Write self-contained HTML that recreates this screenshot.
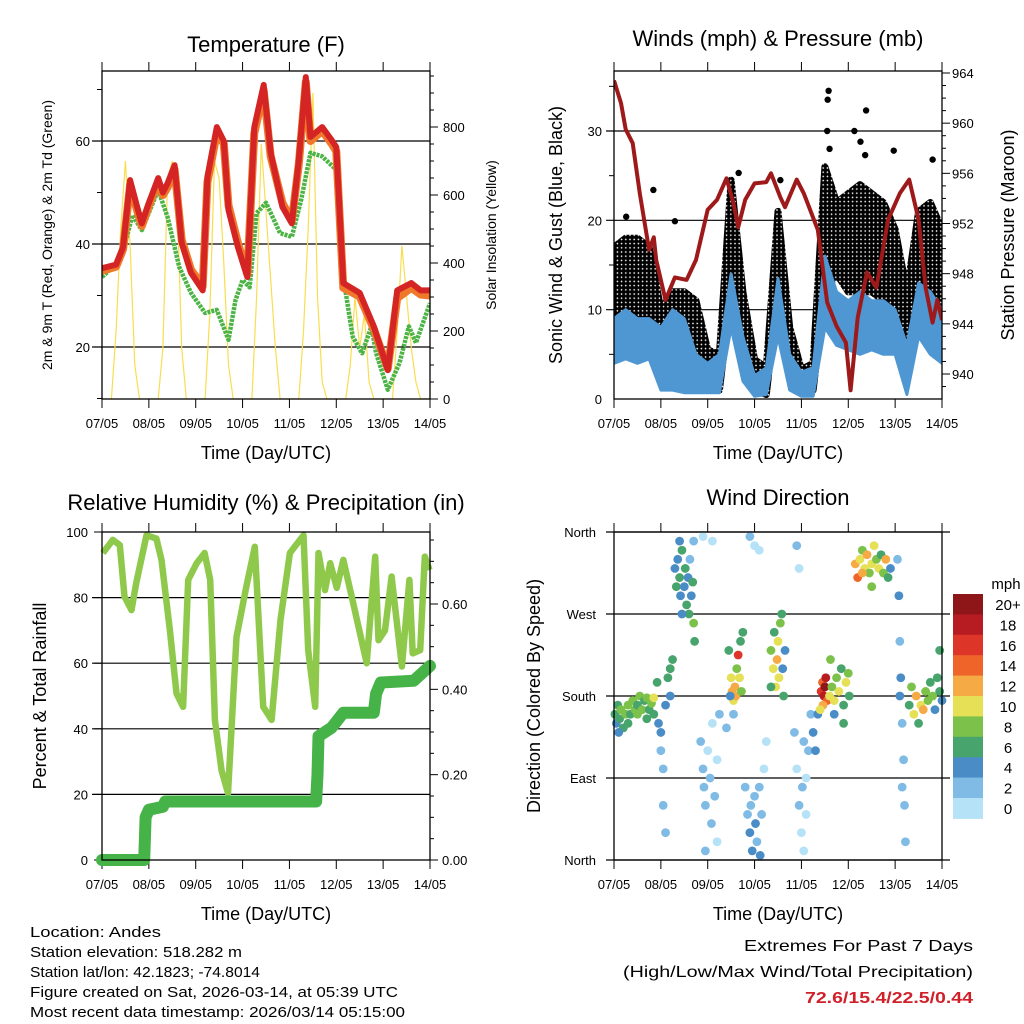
<!DOCTYPE html>
<html><head><meta charset="utf-8">
<style>
html,body{margin:0;padding:0;background:#fff;}
svg{display:block;font-family:"Liberation Sans",Arial,sans-serif;}
</style></head>
<body>
<svg id="root" width="1024" height="1024" viewBox="0 0 1024 1024" xmlns="http://www.w3.org/2000/svg">
<defs>
<pattern id="dotpat" width="4.2" height="4.2" patternUnits="userSpaceOnUse">
<rect width="4.2" height="4.2" fill="#fff"/>
<circle cx="2.1" cy="2.1" r="2.3" fill="#000"/>
</pattern>
</defs>
<rect width="1024" height="1024" fill="#fff"/>
</svg>
<script>
// ---------- DATA ----------
const dayLabels = ["07/05","08/05","09/05","10/05","11/05","12/05","13/05","14/05"];
const tempT = [0,0.3,0.45,0.6,0.75,0.85,1.0,1.2,1.3,1.4,1.55,1.7,1.9,2.15,2.25,2.45,2.6,2.7,2.9,3.1,3.25,3.45,3.6,3.85,4.05,4.2,4.35,4.45,4.7,4.9,5.0,5.15,5.5,5.8,6.1,6.3,6.6,6.8,7.0];
const tempRed = [35.3,36,39.4,52.4,47.2,44,48,52.8,50,51.8,55.3,40.2,34.4,31,53,62.7,60,46.6,39.4,33.6,62.7,70.9,57.7,47.2,44,56.3,72.4,60.8,62.7,60.2,58.8,32.4,30.5,24,15.5,31,32.4,31,31];
const tempOrange = [34.8,35.6,39,51.5,46.5,43.5,47.5,52,49.5,51,54.5,40.8,35,31.8,52,61.5,59.5,47.5,40.2,34.2,61.5,69.8,57,48,44.5,55.5,71.5,60,62,59.5,58,31.5,29.8,23.5,15.8,29.5,31.5,30.2,30];
const dewT = [0,0.4,0.65,0.85,1.2,1.4,1.65,1.9,2.2,2.45,2.7,2.85,3.0,3.15,3.3,3.5,3.8,4.05,4.25,4.45,4.7,5.0,5.15,5.35,5.55,5.75,5.85,6.1,6.35,6.55,6.7,7.0];
const dewV = [33.6,36.9,45.6,42.7,50.5,45.2,35.5,30.5,26.6,27.2,21.4,29.1,33,31.6,46,48,42.1,41.4,48.5,57.7,57,54.4,33.6,22,18.8,24,18.8,11.7,16.9,24,20.8,28.5];
const solarVals = [0,0,0,200,500,700,450,100,0,0, 0,0,0,150,650,700,600,150,0,0, 0,0,0,250,700,650,400,100,0,0, 0,0,0,300,750,550,350,150,0,0, 0,0,0,200,500,900,300,50,0,0, 0,0,0,100,300,150,250,50,0,0, 0,0,0,200,450,300,150,50,0,0, 0];
const windT = [0,0.25,0.5,0.75,1,1.25,1.5,1.75,2,2.25,2.5,2.75,3,3.25,3.5,3.75,4,4.25,4.5,4.75,5,5.25,5.5,5.75,6,6.25,6.5,6.75,7];
const windLo = [4,4.5,4,4.5,1,1,0.7,0.7,0.7,0.7,8,2,0.3,0.5,7,1,0.3,0.3,8,6,5.5,5,5.5,5,5,0.5,7,5,4];
const windHi = [9,10,9,9,8,10,9,5,4,5,14,7,2.6,3.5,13.5,5,3,3.5,16,12,11,12,11,11,10,6,13,12,10];
const gustLo = [8,8,8,8,2,4.5,4.4,4,2,1,11.8,5,1,0.5,12,3,0.8,1,12,14,12,12,12,11,8,2,10,12,5];
const gustHi = [17,18,18,17,10,12,12,11,5.5,5,24.5,12,4.4,3.5,21,8,3.3,4,26,22,23,24,23,22,19,12,21,22,19];
const gustOutT = [4.58,4.56,4.55,5.13,5.38,5.26,5.36,5.97,6.8,0.84,0.26,1.3,2.66,3.55,4.6];
const gustOutV = [34.5,33.5,30,30,32.3,28.8,27.3,27.8,26.8,23.4,20.4,19.9,25.3,24.5,28];
const presT = [0,0.15,0.25,0.4,0.55,0.75,0.85,0.9,1.1,1.3,1.55,1.75,2.0,2.2,2.4,2.55,2.65,2.8,3.0,3.25,3.35,3.55,3.65,3.9,4.05,4.35,4.55,4.75,4.95,5.05,5.2,5.4,5.6,5.85,6.1,6.3,6.5,6.65,6.8,6.9,7.0];
const presV = [963.4,961.6,959.5,958.4,954.4,949.9,950.9,949.1,945.9,947.7,947.5,949.1,953.1,953.9,955.6,953.6,951.7,953.9,955.2,955.3,956.0,954.1,953.3,955.5,954.4,951.5,945.7,943.8,942.5,938.7,944.5,948.1,946.9,952.3,954.4,955.5,952.3,946.9,944.1,945.9,944.3];
const rhT = [0.02,0.23,0.38,0.48,0.63,0.73,0.95,1.16,1.27,1.45,1.59,1.73,1.84,2.02,2.19,2.31,2.41,2.55,2.69,2.87,3.08,3.26,3.44,3.62,3.81,4.01,4.3,4.4,4.55,4.62,4.76,4.87,5.01,5.15,5.36,5.65,5.83,5.9,6.04,6.18,6.4,6.56,6.63,6.79,6.89,6.99];
const rhV = [93.6,97.6,96,80.3,76.2,84.4,99,98,91.5,70,50.8,46.7,85.4,90.5,93.6,85.4,42.7,27.4,20.4,68,83.3,95.5,46.7,42.7,73.2,93.6,99,64,46.7,93.6,82.3,90.5,83,91.5,78.3,60,92.5,67,70,86.4,59,85.4,63,64,92.5,88.4];
const pT = [0,0.9,0.93,1.0,1.3,1.35,4.57,4.6,4.62,4.9,5.15,5.8,5.85,5.95,6.65,6.85,7.0];
const pV = [0,0,0.1,0.118,0.125,0.137,0.137,0.2,0.29,0.31,0.345,0.345,0.39,0.416,0.42,0.44,0.455];
const dirT = [0.02,0.05,0.08,0.12,0.15,0.2,0.25,0.3,0.35,0.4,0.45,0.5,0.55,0.6,0.65,0.7,0.75,0.8,0.85,0.1,0.3,0.5,0.7,0.85,
0.92,0.95,1.0,1.0,1.05,1.1,1.15,1.2,1.2,1.25,1.05,1.1,
1.3,1.33,1.36,1.4,1.42,1.45,1.5,1.52,1.55,1.58,1.6,1.62,1.65,1.68,1.7,1.72,1.45,1.4,1.7,
1.85,1.9,1.92,1.95,2.0,2.05,2.08,2.1,2.15,2.2,2.2,1.9,2.1,1.95,2.25,
2.45,2.5,2.52,2.55,2.58,2.6,2.62,2.65,2.68,2.7,2.72,2.75,2.48,2.55,2.4,
2.8,2.85,2.9,2.92,2.95,3.0,3.02,3.05,3.1,3.12,3.15,3.2,3.25,2.9,3.0,3.1,
3.35,3.4,3.42,3.45,3.48,3.5,3.52,3.55,3.58,3.6,3.62,3.65,3.35,
3.85,3.9,3.95,4.0,4.02,4.05,4.1,4.15,4.2,4.25,4.3,4.35,3.9,3.95,4.1,4.05,
4.42,4.45,4.48,4.5,4.52,4.55,4.46,4.4,
4.6,4.65,4.7,4.75,4.8,4.85,4.9,4.95,5.0,5.02,4.62,4.7,4.9,
5.15,5.2,5.25,5.3,5.35,5.4,5.45,5.5,5.55,5.6,5.65,5.7,5.75,5.8,5.85,5.9,5.5,5.3,
6.05,6.08,6.1,6.12,6.15,6.18,6.2,6.22,6.15,6.1,
6.3,6.35,6.4,6.45,6.5,6.55,6.6,6.65,6.7,6.75,6.8,6.85,6.9,6.95,7.0,6.95];
const dirD = [160,150,170,155,165,145,160,170,160,175,165,170,180,165,175,178,165,172,160,140,150,160,155,178,
195,150,140,120,100,170,200,210,180,220,60,30,
320,300,330,310,290,340,300,320,280,310,270,330,290,305,260,240,270,350,350,
130,100,80,60,120,90,40,150,70,110,20,355,350,10,160,
230,200,185,175,190,180,210,225,200,240,185,250,180,160,145,
80,50,30,60,10,70,40,20,80,5,50,100,130,355,345,340,
230,210,250,190,220,240,200,260,270,210,180,230,190,
140,100,60,30,80,10,50,120,160,140,120,160,345,320,90,130,
185,195,180,190,200,175,170,165,
180,190,175,200,185,210,170,195,205,180,220,160,150,
325,310,330,340,320,335,315,325,345,330,320,335,315,330,310,320,300,315,
330,290,240,200,150,110,60,20,80,180,
170,190,160,180,150,170,165,185,175,195,180,165,200,185,175,230];
const dirS = [6,4,6,6,8,6,8,8,6,8,8,6,8,8,6,8,6,8,6,4,6,8,6,10,
6,4,4,2,2,4,6,6,4,6,2,2,
4,6,4,6,4,6,4,6,6,4,6,2,4,6,8,6,4,4,2,
2,2,2,2,0,2,2,0,2,0,0,0,0,2,2,
6,10,12,10,12,12,8,16,10,6,8,6,4,2,2,
2,2,4,2,4,2,4,2,2,4,2,0,0,2,0,0,
8,10,6,10,12,10,10,8,6,4,6,4,6,
2,0,2,0,2,0,0,2,2,4,4,4,2,0,0,2,
16,14,18,20,18,14,12,10,
10,8,10,8,10,6,6,10,8,6,8,4,6,
12,14,10,8,10,12,8,10,10,8,10,6,8,12,6,4,8,12,
2,4,2,4,2,2,2,2,2,4,
6,8,10,12,6,10,12,8,8,6,8,4,6,6,4,6];
const speedBins = ["0","2","4","6","8","10","12","14","16","18","20+"];
const speedColors = ["#b5e2f7","#80bbe5","#4a8dc6","#47a46c","#7cc24a","#e5e056","#f6aa45","#ee6429","#dd3527","#b81c23","#8e1518"];

// ---------- HELPERS ----------
const NS="http://www.w3.org/2000/svg";
const root=document.getElementById('root');
function mk(tag,attrs,parent){const e=document.createElementNS(NS,tag);for(const k in attrs)e.setAttribute(k,attrs[k]);(parent||root).appendChild(e);return e;}
function txt(s,x,y,size,anchor,parent,extra){const e=mk('text',Object.assign({x:x,y:y,'font-size':size,'text-anchor':anchor||'middle',fill:'#000'},extra||{}),parent);e.textContent=s;return e;}
function lin(d0,d1,r0,r1){return v=>r0+(v-d0)*(r1-r0)/(d1-d0);}
function poly(xs,ys){return xs.map((x,i)=>x.toFixed(1)+','+ys[i].toFixed(1)).join(' ');}

function panel(name,x0,y0,x1,y1,title,titleY,ytitle,ytitleX,ytitleSize){
  const g=mk('g',{});
  
  
  const t=txt(title,(x0+x1)/2,titleY,22,'middle',g);
  
  
  const xt=txt('Time (Day/UTC)',(x0+x1)/2,y1+60,18,'middle',g);
  
  
  const yt=txt(ytitle,0,0,ytitleSize,'middle',g,{transform:`translate(${ytitleX},${(y0+y1)/2}) rotate(-90)`});
  
  
  const xs=lin(0,7,x0,x1);
  for(let i=0;i<dayLabels.length;i++){
    const x=xs(i);
    mk('line',{x1:x,y1:y0,x2:x,y2:y0-9,stroke:'#000','stroke-width':1},g);
    mk('line',{x1:x,y1:y1,x2:x,y2:y1+9,stroke:'#000','stroke-width':1},g);
    const l=txt(dayLabels[i],x,y1+29,13,'middle',g);
    
    
  }
  return {g,xs};
}
function frame(g,x0,y0,x1,y1){mk('rect',{x:x0,y:y0,width:x1-x0,height:y1-y0,fill:'none',stroke:'#000','stroke-width':1.3},g);}

// ---------- PANEL 1: Temperature ----------
(function(){
  const X0=102,Y0=71,X1=430,Y1=399;
  const p=panel('temperature-panel',X0,Y0,X1,Y1,'Temperature (F)',52,'2m & 9m T (Red, Orange) & 2m Td (Green)',52,14);
  const g=p.g, xs=p.xs;
  const ty=lin(20,60,347,141), sy=lin(0,800,399,127);
  const clip=mk('clipPath',{id:'c1'},g);mk('rect',{x:X0,y:Y0,width:X1-X0,height:Y1-Y0},clip);
  [20,40,60].forEach(v=>{
    mk('line',{x1:X0-10,y1:ty(v),x2:X1,y2:ty(v),stroke:'#000','stroke-width':1.2},g);
    const l=txt(String(v),X0-12,ty(v)+5,13,'end',g);
    
    
  });
  [10,30,50,70].forEach(v=>mk('line',{x1:X0-5,y1:ty(v),x2:X0,y2:ty(v),stroke:'#000'},g));
  for(let v=0;v<=950;v+=50){const y=sy(v);if(y<Y0)break;mk('line',{x1:X1,y1:y,x2:X1+(v%200===0?8:4),y2:y,stroke:'#000'},g);}
  [0,200,400,600,800].forEach(v=>{
    const l=txt(String(v),X1+13,sy(v)+5,13,'start',g);
    
    
  });
  const yt2=txt('Solar Insolation (Yellow)',0,0,14,'middle',g,{transform:`translate(496,${(Y0+Y1)/2}) rotate(-90)`});
  
  
  const dg=mk('g',{'clip-path':'url(#c1)'},g);
  const sol=mk('polyline',{points:poly(solarVals.map((v,i)=>xs(i*0.1)),solarVals.map(v=>sy(v))),fill:'none',stroke:'#f9dd50','stroke-width':1.2},dg);
  
  
  const dew=mk('polyline',{points:poly(dewT.map(xs),dewV.map(ty)),fill:'none',stroke:'#4bb444','stroke-width':4.5,'stroke-dasharray':'3 1','stroke-linejoin':'round'},dg);
  
  
  const or=mk('polyline',{points:poly(tempT.map(xs),tempOrange.map(ty)),fill:'none',stroke:'#f0782a','stroke-width':8,'stroke-linejoin':'round'},dg);
  
  
  const rd=mk('polyline',{points:poly(tempT.map(xs),tempRed.map(ty)),fill:'none',stroke:'#d42424','stroke-width':6,'stroke-linejoin':'round'},dg);
  
  
  frame(g,X0,Y0,X1,Y1);
})();

// ---------- PANEL 2: Winds ----------
(function(){
  const X0=614,Y0=71,X1=942,Y1=399;
  const p=panel('winds-panel',X0,Y0,X1,Y1,'Winds (mph) & Pressure (mb)',46,'Sonic Wind & Gust (Blue, Black)',562,18);
  const g=p.g, xs=p.xs;
  const wy=lin(0,30,399,131), py=lin(940,964,374,73);
  const clip=mk('clipPath',{id:'c2'},g);mk('rect',{x:X0,y:Y0,width:X1-X0,height:Y1-Y0},clip);
  [10,20,30].forEach(v=>mk('line',{x1:X0-8,y1:wy(v),x2:X1,y2:wy(v),stroke:'#000','stroke-width':1.2},g));
  [0,10,20,30].forEach(v=>{
    const l=txt(String(v),X0-12,wy(v)+5,13,'end',g);
    
    
  });
  [5,15,25,35].forEach(v=>mk('line',{x1:X0-5,y1:wy(v),x2:X0,y2:wy(v),stroke:'#000'},g));
  for(let v=939;v<=964;v++){mk('line',{x1:X1,y1:py(v),x2:X1+(v%4===0?8:4),y2:py(v),stroke:'#000'},g);}
  [940,944,948,952,956,960,964].forEach(v=>{
    const l=txt(String(v),X1+10,py(v)+5,13,'start',g);
    
    
  });
  const yt2=txt('Station Pressure (Maroon)',0,0,18,'middle',g,{transform:`translate(1014,${(Y0+Y1)/2}) rotate(-90)`});
  
  
  const dg=mk('g',{'clip-path':'url(#c2)'},g);
  const gx=windT.map(xs);
  const gust=mk('polygon',{points:poly(gx.concat(gx.slice().reverse()),gustHi.map(wy).concat(gustLo.map(wy).reverse())),fill:'url(#dotpat)',stroke:'url(#dotpat)','stroke-width':7,'stroke-linejoin':'round'},dg);
  
  
  gustOutT.forEach((t,i)=>{
    const c=mk('circle',{cx:xs(t),cy:wy(gustOutV[i]),r:3.2,fill:'#000'},dg);
    
    
  });
  const wind=mk('polygon',{points:poly(gx.concat(gx.slice().reverse()),windHi.map(wy).concat(windLo.map(wy).reverse())),fill:'#4f97d2',stroke:'#4f97d2','stroke-width':3,'stroke-linejoin':'round'},dg);
  
  
  const pr=mk('polyline',{points:poly(presT.map(xs),presV.map(py)),fill:'none',stroke:'#9e1a1a','stroke-width':4,'stroke-linejoin':'round'},dg);
  
  
  frame(g,X0,Y0,X1,Y1);
})();

// ---------- PANEL 3: RH & Precip ----------
(function(){
  const X0=102,Y0=532,X1=430,Y1=860;
  const p=panel('humidity-panel',X0,Y0,X1,Y1,'Relative Humidity (%) & Precipitation (in)',510,'Percent & Total Rainfall',46,18);
  const g=p.g, xs=p.xs;
  const ry=lin(0,100,860,532), qy=lin(0,0.6,860,604);
  const clip=mk('clipPath',{id:'c3'},g);mk('rect',{x:X0-6,y:Y0,width:X1-X0+12,height:Y1-Y0+6},clip);
  [20,40,60,80].forEach(v=>mk('line',{x1:X0-10,y1:ry(v),x2:X1,y2:ry(v),stroke:'#000','stroke-width':1.2},g));
  [0,20,40,60,80,100].forEach(v=>{
    mk('line',{x1:X0-8,y1:ry(v),x2:X0,y2:ry(v),stroke:'#000'},g);
    const l=txt(String(v),X0-14,ry(v)+5,13,'end',g);
    
    
  });
  for(let v=0;v<=0.76;v+=0.05){mk('line',{x1:X1,y1:qy(v),x2:X1+(Math.round(v*100)%20===0?8:4),y2:qy(v),stroke:'#000'},g);}
  ['0.00','0.20','0.40','0.60'].forEach(s=>{
    const l=txt(s,X1+12,qy(parseFloat(s))+5,13,'start',g);
    
    
  });
  const dg=mk('g',{'clip-path':'url(#c3)'},g);
  const rh=mk('polyline',{points:poly(rhT.map(xs),rhV.map(ry)),fill:'none',stroke:'#8fc94c','stroke-width':6.5,'stroke-linejoin':'round'},dg);
  
  
  const pr=mk('polyline',{points:poly(pT.map(xs),pV.map(qy)),fill:'none',stroke:'#45b347','stroke-width':12,'stroke-linejoin':'round','stroke-linecap':'round'},dg);
  
  
  frame(g,X0,Y0,X1,Y1);
})();

// ---------- PANEL 4: Wind direction ----------
(function(){
  const X0=614,Y0=532,X1=942,Y1=860;
  const p=panel('wind-direction-panel',X0,Y0,X1,Y1,'Wind Direction',505,'Direction (Colored By Speed)',540,18);
  const g=p.g, xs=p.xs;
  const dy=lin(0,360,860,532);
  const names=['North','East','South','West','North'];
  [0,90,180,270,360].forEach((v,i)=>{
    mk('line',{x1:X0-8,y1:dy(v),x2:X1+8,y2:dy(v),stroke:'#000','stroke-width':1.2},g);
    const l=txt(names[i],X0-18,dy(v)+5,13,'end',g);
    
    
  });
  const dg=mk('g',{},g);
  dirT.forEach((t,i)=>{
    const b=Math.min(10,Math.floor(dirS[i]/2));
    const c=mk('circle',{cx:xs(t),cy:dy(dirD[i]),r:4.4,fill:speedColors[b]},dg);
    
    
  });
  frame(g,X0,Y0,X1,Y1);
  const lg=mk('g',{},root);
  
  
  const u=txt('mph',1006,589,15,'middle',lg);
  
  
  const n=speedBins.length, bh=20.4, top=594;
  for(let i=0;i<n;i++){
    const k=n-1-i;
    const r=mk('rect',{x:953,y:top+i*bh,width:30,height:bh+0.5,fill:speedColors[k]},lg);
    
    
    const l=txt(speedBins[k],1008,top+i*bh+16,15,'middle',lg);
    
    
  }
})();

// ---------- FOOTER ----------
(function(){
  const f=mk('g',{});
  
  
  const lines=[["Location: Andes",131],["Station elevation: 518.282 m",212],["Station lat/lon: 42.1823; -74.8014",230],["Figure created on Sat, 2026-03-14, at 05:39 UTC",368],["Most recent data timestamp: 2026/03/14 05:15:00",375]];
  lines.forEach((l,i)=>{
    const e=txt(l[0],30,937+i*20,15,'start',f,{textLength:l[1],lengthAdjust:'spacingAndGlyphs'});
    
    
  });
  const e=mk('g',{});
  
  
  const a=txt('Extremes For Past 7 Days',973,951,16,'end',e,{textLength:229,lengthAdjust:'spacingAndGlyphs'});
  
  
  const b=txt('(High/Low/Max Wind/Total Precipitation)',973,977,16,'end',e,{textLength:350,lengthAdjust:'spacingAndGlyphs'});
  
  
  const c=txt('72.6/15.4/22.5/0.44',973,1003,16,'end',e,{fill:'#d0202a','font-weight':'bold',textLength:168,lengthAdjust:'spacingAndGlyphs'});
  
  
})();
</script>
</body></html>
